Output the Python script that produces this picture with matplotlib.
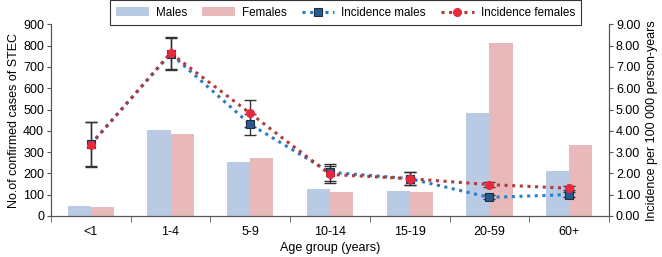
import numpy as np
import matplotlib
matplotlib.use("Agg")
import matplotlib.pyplot as plt

plt.rcParams["font.family"] = ["Liberation Sans", "DejaVu Sans"]
plt.rcParams["font.size"] = 9

# ---------------------------------------------------------------- data
age_groups = ["<1", "1-4", "5-9", "10-14", "15-19", "20-59", "60+"]
cases_males = [45, 405, 255, 125, 117, 482, 211]
cases_females = [43, 385, 272, 112, 113, 811, 333]
inc_males = [3.38, 7.62, 4.30, 2.05, 1.75, 0.87, 1.00]
inc_females = [3.35, 7.65, 4.82, 1.95, 1.75, 1.47, 1.30]
err_males = [1.05, 0.75, 0.50, 0.40, 0.32, 0.10, 0.10]
err_females = [1.05, 0.75, 0.62, 0.40, 0.32, 0.10, 0.10]

c_male_bar = "#b9cbe4"
c_female_bar = "#e8b9ba"
c_male_line = "#2a7cc7"
c_female_line = "#b23a3a"

fig = plt.figure(figsize=(6.62, 2.57), dpi=100)
ax = fig.add_axes([0.077, 0.16, 0.843, 0.745])
ax2 = ax.twinx()

x = np.arange(len(age_groups))
w = 0.29
bm = ax.bar(x - w / 2, cases_males, w, color=c_male_bar, label="Males", zorder=1)
bf = ax.bar(x + w / 2, cases_females, w, color=c_female_bar, label="Females", zorder=1)

ax2.errorbar(x, inc_males, yerr=err_males, fmt="none", ecolor="#333333",
             elinewidth=1.0, capsize=4, capthick=1.0, zorder=2)
ax2.errorbar(x, inc_females, yerr=err_females, fmt="none", ecolor="#333333",
             elinewidth=1.0, capsize=4, capthick=1.0, zorder=2)
lm, = ax2.plot(x, inc_males, ls=(0, (1, 1.5)), lw=2.2, color=c_male_line,
               marker="s", ms=5.5, mfc="#2b5b8e", mec="#1a2f4a", mew=0.8,
               label="Incidence males", zorder=3)
lf, = ax2.plot(x, inc_females, ls=(0, (1, 1.5)), lw=2.2, color=c_female_line,
               marker="o", ms=5.5, mfc="#e8283c", mec="#e8283c",
               label="Incidence females", zorder=4)

ax.set_xlim(-0.5, len(age_groups) - 0.5)
ax.set_ylim(0, 900)
ax.set_yticks(range(0, 901, 100))
ax2.set_ylim(0, 9)
ax2.set_yticks(np.arange(0, 9.01, 1))
ax2.set_yticklabels([f"{v:.2f}" for v in np.arange(0, 9.01, 1)])

ax.set_xticks(x)
ax.set_xticklabels(age_groups)
ax.set_xticks(np.arange(-0.5, len(age_groups) - 0.4, 1), minor=True)
ax.tick_params(axis="x", which="major", length=0, pad=7)
ax.tick_params(axis="x", which="minor", length=4, color="#555555")
for a in (ax, ax2):
    a.tick_params(axis="y", length=3, color="#555555", pad=2)
    a.spines["top"].set_visible(False)
    for s in ("left", "right", "bottom"):
        a.spines[s].set_color("#555555")

ax.set_ylabel("No.of confirmed cases of STEC", labelpad=2)
ax2.set_ylabel("Incidence per 100 000 person-years", labelpad=4)
ax.set_xlabel("Age group (years)", labelpad=3)

leg = fig.legend(handles=[bm, bf, lm, lf], ncol=4, loc="upper center",
                 bbox_to_anchor=(0.522, 1.022), frameon=True, fancybox=False,
                 edgecolor="black", handlelength=2.8, columnspacing=1.3,
                 borderpad=0.55, handletextpad=0.6, fontsize=8.4)
leg.get_frame().set_linewidth(0.8)

fig.savefig("out.png", dpi=100)
